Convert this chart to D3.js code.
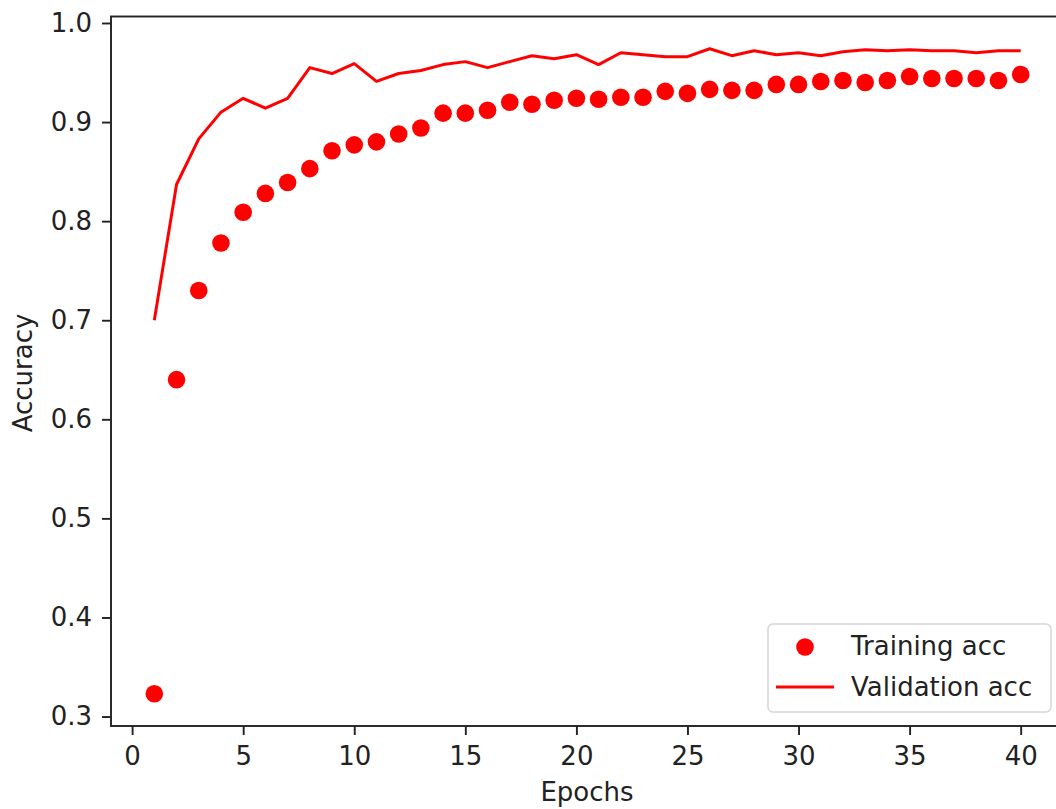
<!DOCTYPE html>
<html>
<head>
<meta charset="utf-8">
<script src="https://cdn.jsdelivr.net/npm/d3@7"></script>
<style>
  body { margin: 0; background: #fff; }
  text { font-family: "DejaVu Sans", sans-serif; fill: #222; }
</style>
</head>
<body>
<div id="chart"></div>
<script>
// epochs 1..40
var epochs = d3.range(1, 41);

var trainAcc = [0.323, 0.640, 0.730, 0.778, 0.809, 0.828, 0.839, 0.853, 0.871, 0.877,
                0.880, 0.888, 0.894, 0.909, 0.909, 0.912, 0.920, 0.918, 0.922, 0.924,
                0.923, 0.925, 0.925, 0.931, 0.929, 0.933, 0.932, 0.932, 0.938, 0.938,
                0.941, 0.942, 0.940, 0.942, 0.946, 0.944, 0.944, 0.944, 0.942, 0.948];

var valAcc = [0.700, 0.837, 0.883, 0.910, 0.924, 0.914, 0.924, 0.955, 0.949, 0.959,
              0.941, 0.949, 0.952, 0.958, 0.961, 0.955, 0.961, 0.967, 0.964, 0.968,
              0.958, 0.970, 0.968, 0.966, 0.966, 0.974, 0.967, 0.972, 0.968, 0.970,
              0.967, 0.971, 0.973, 0.972, 0.973, 0.972, 0.972, 0.970, 0.972, 0.972];

var xTicks = [0, 5, 10, 15, 20, 25, 30, 35, 40];
var yTicks = [0.3, 0.4, 0.5, 0.6, 0.7, 0.8, 0.9, 1.0];

var W = 1056, H = 809;
var margin = { left: 111, right: 1064, top: 16.5, bottom: 726 };
var red = "#ff0000";
var fontSize = "26px";

var svg = d3.select("#chart").append("svg")
  .attr("width", W)
  .attr("height", H);

// matplotlib-like 5% margins
var xmin = d3.min(epochs), xmax = d3.max(epochs);
var xpad = (xmax - xmin) * 0.05;
var x = d3.scaleLinear().domain([xmin - xpad, xmax + xpad]).range([margin.left, margin.right]);

var allAcc = trainAcc.concat(valAcc);
var ymin = d3.min(allAcc), ymax = d3.max(allAcc);
var ypad = (ymax - ymin) * 0.05;
var y = d3.scaleLinear().domain([ymin - ypad, ymax + ypad]).range([margin.bottom, margin.top]);

// axes
var xAxis = d3.axisBottom(x).tickValues(xTicks).tickSize(9).tickPadding(12).tickFormat(d3.format("d"));
var yAxis = d3.axisLeft(y).tickValues(yTicks).tickSize(9).tickPadding(10).tickFormat(d3.format(".1f"));

var gx = svg.append("g").attr("transform", "translate(0," + margin.bottom + ")").call(xAxis);
var gy = svg.append("g").attr("transform", "translate(" + margin.left + ",0)").call(yAxis);

[gx, gy].forEach(function(g) {
  g.select(".domain").remove();
  g.selectAll(".tick line").attr("stroke", "#222").attr("stroke-width", 1.9);
  g.selectAll(".tick text").style("font-size", fontSize).attr("fill", "#222");
});

// spines
svg.append("rect")
  .attr("x", margin.left).attr("y", margin.top)
  .attr("width", margin.right - margin.left).attr("height", margin.bottom - margin.top)
  .attr("fill", "none").attr("stroke", "#222").attr("stroke-width", 1.9);

// validation line
var line = d3.line()
  .x(function(d, i) { return x(epochs[i]); })
  .y(function(d) { return y(d); });

svg.append("path")
  .datum(valAcc)
  .attr("d", line)
  .attr("fill", "none")
  .attr("stroke", red)
  .attr("stroke-width", 3)
  .attr("stroke-linejoin", "round");

// training dots
svg.append("g").selectAll("circle")
  .data(trainAcc)
  .join("circle")
  .attr("cx", function(d, i) { return x(epochs[i]); })
  .attr("cy", function(d) { return y(d); })
  .attr("r", 8.8)
  .attr("fill", red);

// axis labels
svg.append("text")
  .attr("x", 587).attr("y", 801)
  .attr("text-anchor", "middle")
  .style("font-size", fontSize)
  .text("Epochs");

svg.append("text")
  .attr("transform", "translate(32,373) rotate(-90)")
  .attr("text-anchor", "middle")
  .style("font-size", fontSize)
  .text("Accuracy");

// legend
var lg = svg.append("g");
lg.append("rect")
  .attr("x", 768).attr("y", 624)
  .attr("width", 283).attr("height", 88)
  .attr("rx", 5)
  .attr("fill", "#fff").attr("fill-opacity", 0.8)
  .attr("stroke", "#d6d6d6").attr("stroke-width", 1.5);

lg.append("circle")
  .attr("cx", 805).attr("cy", 647).attr("r", 8.8).attr("fill", red);
lg.append("text")
  .attr("x", 851).attr("y", 655)
  .style("font-size", fontSize)
  .text("Training acc");

lg.append("line")
  .attr("x1", 776).attr("x2", 834)
  .attr("y1", 687).attr("y2", 687)
  .attr("stroke", red).attr("stroke-width", 3);
lg.append("text")
  .attr("x", 851).attr("y", 696)
  .style("font-size", fontSize)
  .text("Validation acc");
</script>
</body>
</html>
